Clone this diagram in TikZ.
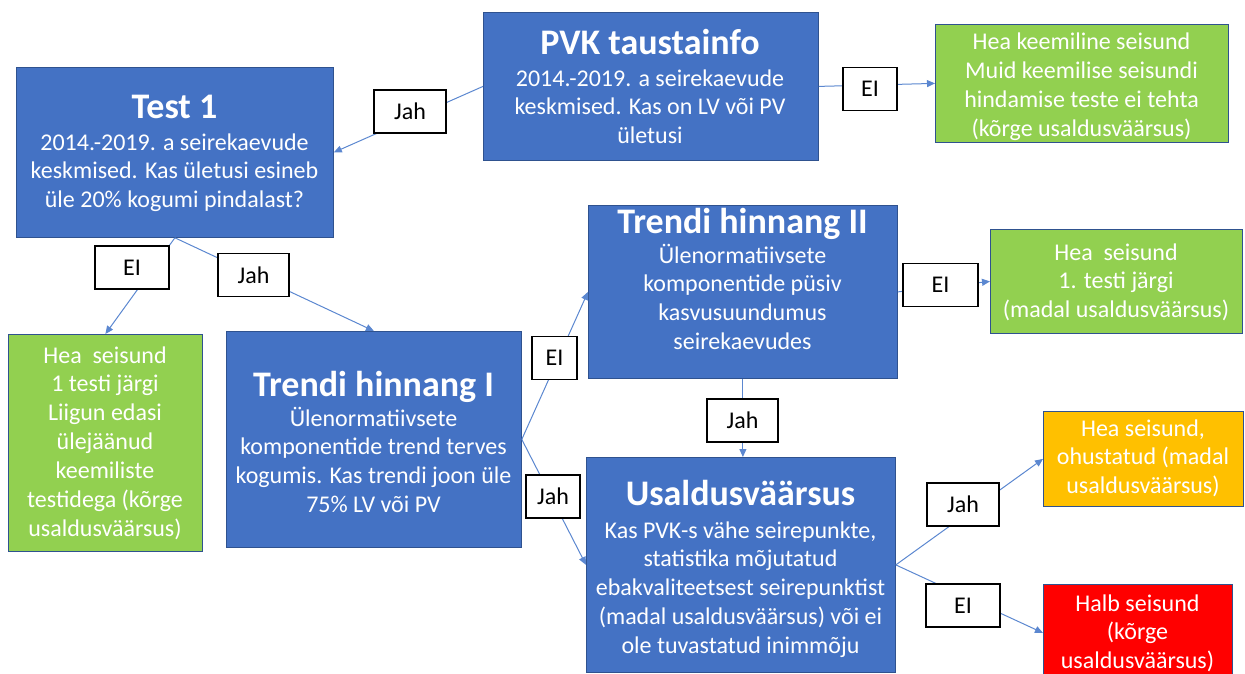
\documentclass[tikz,border=0pt]{standalone}
\usepackage{fontspec}
\setmainfont{Carlito}
\usetikzlibrary{arrows.meta}
\definecolor{pblue}{HTML}{4472C4}
\definecolor{pgreen}{HTML}{92D050}
\definecolor{porange}{HTML}{FFC000}
\definecolor{pred}{HTML}{FF0000}
\definecolor{bordc}{HTML}{2F528F}
\definecolor{connc}{HTML}{5B87D0}
\begin{document}
\begin{tikzpicture}[x=1pt,y=-1pt,
  box/.style={draw=bordc, line width=0.8pt, inner sep=0pt, anchor=north west},
  bluebox/.style={box, fill=pblue},
  greenbox/.style={box, fill=pgreen},
  orangebox/.style={box, fill=porange},
  redbox/.style={box, fill=pred},
  ttl/.style={text=white, font=\fontsize{36}{44}\selectfont\bfseries, inner sep=0pt, anchor=base},
  body/.style={text=white, align=center, font=\fontsize{24}{28.9}\selectfont, inner sep=0pt, anchor=base},
  conn/.style={draw=connc, line width=1pt, -{Triangle[length=8pt,width=7pt]}},
  lbl/.style={draw=black, line width=1.7pt, fill=white, minimum height=43pt, inner sep=0pt, font=\fontsize{24}{29}\selectfont}
]
\useasboundingbox (0,0) rectangle (1245,674);
% boxes
\node[bluebox, minimum width=335pt, minimum height=148pt] (pvk) at (483,12) {};
\node[bluebox, minimum width=317pt, minimum height=170pt] (t1) at (16,67) {};
\node[bluebox, minimum width=309pt, minimum height=173pt] (tr2) at (588,205) {};
\node[bluebox, minimum width=295pt, minimum height=216pt] (tr1) at (226,331) {};
\node[bluebox, minimum width=309pt, minimum height=215pt] (us) at (586,457) {};
\node[greenbox, minimum width=293pt, minimum height=118pt] (g1) at (935,24) {};
\node[greenbox, minimum width=252pt, minimum height=104pt] (gm) at (990,229) {};
\node[greenbox, minimum width=194pt, minimum height=217pt] (gl) at (8,334) {};
\node[orangebox, minimum width=200pt, minimum height=95pt] (or) at (1043,411) {};
\node[redbox, minimum width=189pt, minimum height=97pt] (rd) at (1043,584) {};
% connectors
\draw[conn] (pvk.west) -- (t1.east);
\draw[conn] (pvk.east) -- (g1.west);
\draw[conn] (t1.south) -- (gl.north);
\draw[conn] (t1.south) -- (tr1.north);
\draw[conn] (tr1.east) -- (tr2.west);
\draw[conn] (tr1.east) -- (us.west);
\draw[conn] (tr2.south) -- (tr2.south |- us.north);
\draw[conn] (tr2.east) -- (gm.west);
\draw[conn] (us.east) -- (or.west);
\draw[conn] (us.east) -- (rd.west);
% labels
\node[lbl, minimum width=72pt] (l1) at (410,111.5) {Jah};
\node[lbl, minimum width=54pt] (l2) at (870,89) {EI};
\node[lbl, minimum width=74pt] (l3) at (132,267.5) {EI};
\node[lbl, minimum width=71pt] (l4) at (253.5,275) {Jah};
\node[lbl, minimum width=45pt] (l5) at (554.5,358) {EI};
\node[lbl, minimum width=54pt] (l6) at (553,496.5) {Jah};
\node[lbl, minimum width=71pt] (l7) at (742.5,420.5) {Jah};
\node[lbl, minimum width=75pt] (l8) at (940.5,285) {EI};
\node[lbl, minimum width=72pt] (l9) at (963,504.5) {Jah};
\node[lbl, minimum width=74pt] (l10) at (963,605.5) {EI};
% texts (body nodes: base anchor = baseline of last line)
\node[ttl] (pvkt) at (650,55) {PVK taustainfo};
\node[body] (pvkb) at (650,143.8) {2014.-2019. a seirekaevude\\keskmised. Kas on LV või PV\\ületusi};
\node[ttl] (t1t) at (174.5,119) {Test 1};
\node[body] (t1b) at (174.5,207.8) {2014.-2019. a seirekaevude\\keskmised. Kas ületusi esineb\\üle 20\% kogumi pindalast?};
\node[ttl] (tr2t) at (742.5,233) {Trendi hinnang II};
\node[body] (tr2b) at (742.5,349.7) {Ülenormatiivsete\\komponentide püsiv\\kasvusuundumus\\seirekaevudes};
\node[ttl] (tr1t) at (373.5,396) {Trendi hinnang I};
\node[body] (tr1b) at (373.5,512.7) {Ülenormatiivsete\\komponentide trend terves\\kogumis. Kas trendi joon üle\\75\% LV või PV};
\node[ttl] (ust) at (740.5,505) {Usaldusväärsus};
\node[body] (usb) at (740.5,653.6) {Kas PVK-s vähe seirepunkte,\\statistika mõjutatud\\ebakvaliteetsest seirepunktist\\(madal usaldusväärsus) või ei\\ole tuvastatud inimmõju};
\node[body] (g1b) at (1081.5,136.7) {Hea keemiline seisund\\Muid keemilise seisundi\\hindamise teste ei tehta\\(kõrge usaldusväärsus)};
\node[body] (gmb) at (1116,317.8) {Hea~ seisund\\1. testi järgi\\(madal usaldusväärsus)};
\node[body] (glb) at (105,536.4) {Hea~ seisund\\1 testi järgi\\Liigun edasi\\ülejäänud\\keemiliste\\testidega (kõrge\\usaldusväärsus)};
\node[body] (orb) at (1143,493.8) {Hea seisund,\\ohustatud (madal\\usaldusväärsus)};
\node[body] (rdb) at (1137.5,668.8) {Halb seisund\\(kõrge\\usaldusväärsus)};
\end{tikzpicture}
\end{document}
